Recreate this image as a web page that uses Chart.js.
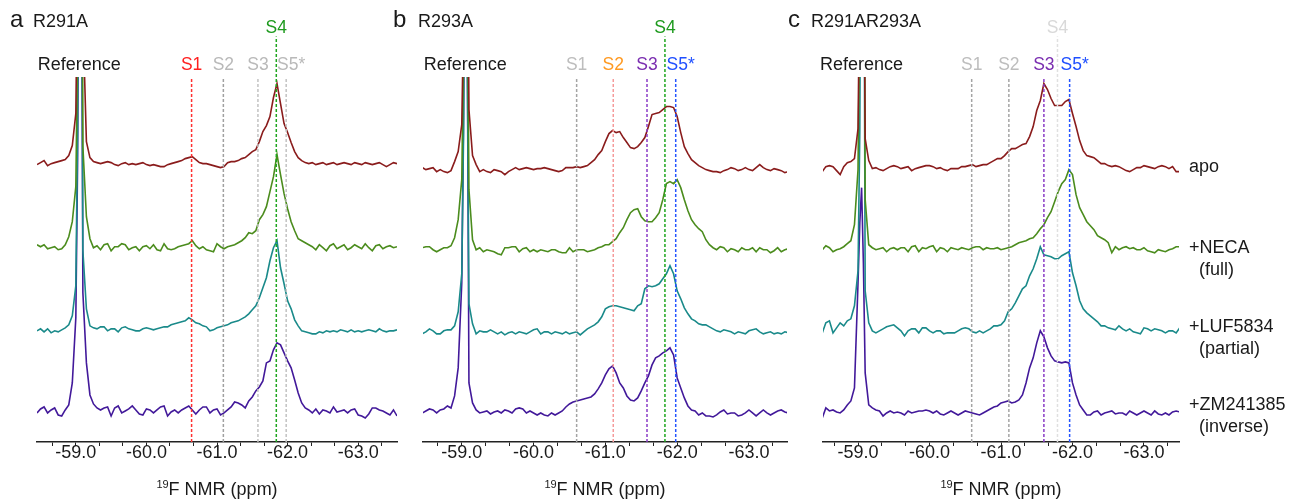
<!DOCTYPE html>
<html>
<head>
<meta charset="utf-8">
<title>19F NMR spectra</title>
<script src="https://cdn.jsdelivr.net/npm/chart.js@4.4.0/dist/chart.umd.min.js"></script>
<style>
  html, body { margin: 0; padding: 0; background: #fff; }
  #wrap { position: relative; width: 1298px; height: 501px; overflow: hidden; }
  #wrap canvas { position: absolute; left: 0; top: 0; }
</style>
</head>
<body>
<div id="wrap">
  <canvas id="panelA" width="1298" height="501"></canvas>
  <canvas id="panelB" width="1298" height="501"></canvas>
  <canvas id="panelC" width="1298" height="501"></canvas>
</div>
<script>
// ========================
// DATA
// ========================
// chemical shift grid (ppm), shared by every spectrum
const ppm = [
  -58.45, -58.50, -58.55, -58.60, -58.65, -58.70, -58.75, -58.80, -58.85, -58.90,
  -58.95, -59.00, -59.025, -59.05, -59.075, -59.10, -59.15, -59.20, -59.25, -59.30,
  -59.35, -59.40, -59.45, -59.50, -59.55, -59.60, -59.65, -59.70, -59.75, -59.80,
  -59.85, -59.90, -59.95, -60.00, -60.05, -60.10, -60.15, -60.20, -60.25, -60.30,
  -60.35, -60.40, -60.45, -60.50, -60.55, -60.60, -60.65, -60.70, -60.75, -60.80,
  -60.85, -60.90, -60.95, -61.00, -61.05, -61.10, -61.15, -61.20, -61.25, -61.30,
  -61.35, -61.40, -61.45, -61.50, -61.55, -61.60, -61.65, -61.70, -61.75, -61.80,
  -61.85, -61.90, -61.95, -62.00, -62.05, -62.10, -62.15, -62.20, -62.25, -62.30,
  -62.35, -62.40, -62.45, -62.50, -62.55, -62.60, -62.65, -62.70, -62.75, -62.80,
  -62.85, -62.90, -62.95, -63.00, -63.05, -63.10, -63.15, -63.20, -63.25, -63.30,
  -63.35, -63.40, -63.45, -63.50, -63.55
];

const traceNames = ['apo', '+NECA', '+LUF5834', '+ZM241385'];
const traceNotes = ['', '(full)', '(partial)', '(inverse)'];
const stackOffsets = [246, 164, 82, 0];   // vertical stacking of the 4 spectra
const siteNames = ['S1', 'S2', 'S3', 'S4', 'S5*'];
const referencePpm = -59.05;
const tickValues = [-58.6667, -59, -59.3333, -59.6667, -60, -60.3333, -60.6667, -61,
  -61.3333, -61.6667, -62, -62.3333, -62.6667, -63, -63.3333];

// ---- panel a : R291A ----
const aApo = [
  2, 4, 6, 1, 3, 4, 5, 6, 7, 11,
  21, 53, 200, 600, 600, 150, 25, 9, 5, 4,
  3, 4, 5, 4, 2, 1, 3, 4, 2, 3,
  2, 3, 4, 2, 1, 2, 1, 0, 0, 2,
  3, 4, 5, 6, 8, 9, 10, 7, 4, 3,
  3, 2, 1, 0, -1, 0, 4, 5, 5, 6,
  8, 9, 12, 15, 17, 25, 35, 41, 50, 69,
  83, 63, 43, 34, 24, 15, 9, 6, 4, 3,
  4, 2, 3, 4, 2, 3, 4, 2, 3, 4,
  3, 2, 4, 3, 2, 4, 3, 2, 3, 4,
  2, 0, 2, 4, 3
];
const aNeca = [
  4, 2, 4, 0, 1, 2, -1, 0, 4, 12,
  27, 62, 200, 600, 600, 102, 32, 10, 1, 3,
  -1, 4, 5, -2, 2, 2, 5, 4, -1, 1,
  2, -2, 2, 3, 0, 4, -1, -2, 5, 0,
  -1, 0, 2, 3, 4, 5, 8, 3, 0, 2,
  -1, -2, -3, 5, 2, 0, 2, 3, 4, 6,
  8, 11, 16, 15, 18, 29, 34, 42, 57, 72,
  94, 74, 55, 40, 27, 18, 10, 8, 6, 4,
  2, -1, 4, 1, -2, 3, 5, 0, 2, 4,
  -1, 1, 4, 2, 0, 5, 1, -2, 3, 4,
  0, 2, 3, 1, 2
];
const aLuf = [
  0, 2, -1, 2, -2, 0, -1, 1, 3, 6,
  15, 45, 200, 600, 600, 80, 22, 5, 3, 2,
  4, 4, 0, 2, 2, -1, 3, 4, 2, 1,
  0, 0, 2, 3, 2, 1, 2, 3, 4, 4,
  6, 7, 8, 9, 10, 13, 11, 8, 7, 5,
  4, 0, 1, 3, 4, 5, 6, 8, 9, 10,
  12, 14, 17, 21, 25, 33, 43, 53, 70, 83,
  90, 63, 47, 30, 22, 11, 5, 0, -1, -2,
  -3, -3, -1, -2, 0, -1, 0, -1, 1, 0,
  -1, 1, -1, 0, -1, 0, 1, 0, -1, 2,
  0, -1, 0, 0, 1
];
const aZm = [
  0, 4, 6, 0, 3, 5, -2, -3, 3, 8,
  30, 95, 250, 600, 600, 120, 50, 18, 9, 5,
  3, 5, 6, -3, 5, 7, 0, 2, 4, 7,
  3, -1, -2, 4, 3, 0, 3, 6, 7, -3,
  1, 3, 0, 3, 5, 7, 3, -1, 3, 6,
  6, 0, 3, 4, -2, 0, 3, 6, 11, 10,
  8, 5, 12, 16, 22, 26, 32, 50, 52, 63,
  70, 68, 60, 52, 45, 33, 20, 10, 5, 3,
  0, 4, -1, 3, 2, 0, 6, 1, 2, 3,
  0, 3, 4, -2, -3, -5, -1, 5, 5, 3,
  2, 0, -2, 3, -3
];
const aSites = [-60.64, -61.09, -61.58, -61.84, -61.98];

// ---- panel b : R293A ----
const bApo = [
  -1, -3, -2, -1, -5, -3, -5, -6, -4, 5,
  15, 42, 147, 600, 300, 57, 11, 2, -5, -3,
  -5, -6, -3, -4, -5, -8, -5, -3, -1, -3,
  -2, -1, -2, -3, -2, -2, -1, -2, -3, -4,
  -5, -4, -1, -1, -1, 0, -1, 0, 1, 4,
  7, 12, 16, 25, 33, 36, 34, 35, 29, 24,
  19, 18, 20, 24, 29, 40, 52, 53, 54, 57,
  60, 60, 59, 50, 34, 20, 13, 7, 4, 1,
  -1, -3, -4, -5, -5, -6, -4, -3, -1, -2,
  -4, -3, -1, -3, -4, -1, 2, -1, -3, -4,
  -2, -3, -4, -6, -5
];
const bNeca = [
  1, 2, 2, -1, -3, -1, 1, 1, 3, 11,
  29, 69, 200, 600, 300, 59, 9, -1, 1, -3,
  -1, -2, -3, -5, -6, 1, 1, 2, 2, -3,
  0, 1, -3, -1, -3, -1, -2, -3, -1, -1,
  -3, -4, -4, 1, -3, -1, -1, -1, -3, -2,
  -1, 1, 2, 4, 4, 7, 10, 16, 21, 29,
  36, 39, 40, 32, 28, 27, 27, 31, 36, 49,
  65, 67, 65, 69, 61, 49, 38, 29, 24, 20,
  17, 9, 4, 1, -1, 2, 1, -3, 0, -1,
  -3, 1, -1, -1, 1, -3, 1, -1, -1, -4,
  -2, 1, -3, -1, 0
];
const bLuf = [
  -3, -1, 2, 0, -3, -3, 0, 1, 1, 5,
  19, 57, 197, 600, 300, 27, 7, -3, 0, -1,
  -1, 1, -1, -3, -1, -4, -2, -1, -3, -1,
  -2, -3, -1, 1, 2, -3, -1, -1, -3, -1,
  -2, -3, -1, -3, -2, -1, -4, -1, 2, 4,
  6, 9, 14, 22, 24, 25, 25, 24, 23, 22,
  21, 20, 25, 27, 42, 45, 44, 45, 47, 52,
  57, 65, 57, 40, 32, 23, 17, 12, 10, 7,
  6, 6, 4, 2, 0, -1, 1, 0, -1, -3,
  -1, -2, -3, 0, 1, 2, -1, -3, -2, -1,
  -3, -2, -3, -1, -2
];
const bZm = [
  0, 2, 4, 3, 0, 3, 4, 7, 5, 17,
  45, 130, 300, 600, 400, 30, 10, 3, 0, 1,
  2, -1, 1, 2, 0, 3, 2, 0, 4, 5,
  4, 0, 2, 0, -2, 0, -2, -3, 0, -2,
  0, 2, 6, 9, 11, 12, 13, 14, 15, 16,
  19, 24, 30, 38, 44, 47, 40, 30, 25, 17,
  13, 12, 15, 22, 30, 37, 48, 55, 57, 60,
  62, 65, 58, 35, 25, 15, 7, 3, 2, -2,
  0, -3, -3, -4, -2, 1, 3, -1, 0, 0,
  -3, -2, 0, 3, 0, -3, 0, 3, 0, -2,
  0, 2, 3, 1, 0
];
const bSites = [-60.60, -61.11, -61.58, -61.83, -61.98];

// ---- panel c : R291AR293A ----
const cApo = [
  -2, -5, 0, 1, 0, -4, -8, 0, 4, 5,
  8, 38, 198, 600, 300, 28, 6, -2, -1, -3,
  -4, -2, 0, 1, 0, -2, -1, 0, -4, -2,
  -1, 0, 1, 1, 0, -2, -1, -3, -4, -2,
  -2, -2, 0, 0, 1, 2, 0, 1, 2, 2,
  4, 6, 8, 8, 11, 15, 18, 18, 20, 22,
  23, 30, 40, 56, 66, 83, 77, 68, 61, 61,
  61, 65, 67, 53, 40, 26, 16, 11, 10, 9,
  6, 3, 3, 1, 0, 1, 0, -2, -4, -5,
  -3, -1, -1, 1, 0, -1, -2, 0, 1, 0,
  -2, 0, -5, -5, -5
];
const cNeca = [
  -1, -1, 3, 1, -3, -1, 0, 2, 5, 8,
  24, 79, 249, 600, 600, 49, 4, 1, -1, 0,
  1, -3, 0, 1, -1, 1, 1, -3, 2, 3,
  -3, 1, 0, 2, 3, -3, 1, 0, -3, 1,
  0, -1, 1, 0, -1, 1, 2, 2, -1, 1,
  0, 0, 1, -1, 0, 1, 2, 4, 6, 7,
  8, 10, 11, 15, 20, 24, 31, 37, 47, 57,
  65, 69, 79, 74, 54, 41, 34, 27, 23, 19,
  13, 11, 9, 6, -4, 2, -1, 1, 2, 0,
  1, -1, -1, 1, -2, -3, -4, -1, -2, -3,
  -1, 0, 2, 2, 1
];
const cLuf = [
  0, -2, 8, 10, -2, 3, 8, 5, 10, 12,
  25, 60, 200, 600, 600, 40, 8, 0, -2, 0,
  2, 4, 5, 6, 3, 0, -5, 0, 2, 2,
  -2, 3, 3, 0, -2, 0, 0, -3, -2, -2,
  -2, 0, 2, 3, 2, -1, -2, 0, -2, 0,
  2, 5, 5, 6, 10, 19, 22, 28, 35, 42,
  45, 55, 62, 72, 84, 76, 75, 74, 72, 72,
  75, 77, 79, 58, 45, 30, 22, 18, 15, 12,
  9, 5, 5, 3, 2, 1, 5, 2, 0, 2,
  -1, -2, -3, 3, 2, 0, 2, 1, 0, -2,
  0, 0, -2, 3, 3
];
const cZm = [
  0, -5, 5, 2, 3, 1, 0, 3, 8, 12,
  25, 130, 190, 225, 150, 40, 8, 5, 3, 2,
  -3, 0, 2, 0, 1, 0, -2, 2, 0, 1,
  2, 2, 3, 2, 0, 2, -1, -2, 0, 2,
  0, -2, 0, 2, 1, 0, -1, -2, 0, 2,
  4, 6, 7, 10, 11, 12, 10, 11, 13, 18,
  30, 45, 55, 70, 82, 76, 65, 57, 52, 51,
  50, 51, 50, 30, 18, 8, 3, -2, -2, 1,
  2, -2, 0, 1, 2, -1, 0, 0, -2, 2,
  0, -2, 0, 2, 0, -2, 2, -1, -2, 0,
  -2, 1, 2, 1, 0
];
const cSites = [-60.59, -61.11, -61.60, -61.79, -61.96];

// ========================
// STYLE
// ========================
const FONT = '"Liberation Sans", Arial, Helvetica, sans-serif';
const TEXT = '#1a1a1a';
const TRACE_COLORS = ['#8a1c1c', '#4b8c1d', '#1a8a8a', '#42199a'];
const Y_MIN = -29, Y_MAX = 335.5, S4_TOP = 376;

const panels = [
  {
    id: 'panelA', letter: 'a', name: 'R291A', letterX: 10, nameX: 33,
    area: [37, 397], range: [-63.55, -58.45],
    traces: [aApo, aNeca, aLuf, aZm], sites: aSites,
    lineColors: ['#ff3030', '#a0a0a0', '#c2c2c2', '#1ea51e', '#c2c2c2'],
    labelColors: ['#ff1f1f', '#b9b9b9', '#b9b9b9', '#1e9a1e', '#b9b9b9'],
    side: false
  },
  {
    id: 'panelB', letter: 'b', name: 'R293A', letterX: 393, nameX: 418,
    area: [423, 787], range: [-63.53, -58.46],
    traces: [bApo, bNeca, bLuf, bZm], sites: bSites,
    lineColors: ['#a4a4a4', '#f59a9a', '#8a3cc6', '#1ea51e', '#2454ff'],
    labelColors: ['#bdbdbd', '#ff9a22', '#7a2db0', '#1e9a1e', '#1f4fff'],
    side: false
  },
  {
    id: 'panelC', letter: 'c', name: 'R291AR293A', letterX: 788, nameX: 811,
    area: [823, 1179], range: [-63.49, -58.51],
    traces: [cApo, cNeca, cLuf, cZm], sites: cSites,
    lineColors: ['#a4a4a4', '#a4a4a4', '#8a3cc6', '#e0e0e0', '#2454ff'],
    labelColors: ['#bdbdbd', '#bdbdbd', '#7a2db0', '#d9d9d9', '#1f4fff'],
    side: true, sideX: 1189, sideY: [172, 253, 332, 410]
  }
];

// ========================
// DRAWING
// ========================
function drawTexts(chart, p) {
  const ctx = chart.ctx;
  const xs = chart.scales.x;
  const area = chart.chartArea;
  ctx.save();
  ctx.textBaseline = 'alphabetic';
  ctx.fillStyle = TEXT;

  // panel heading
  ctx.textAlign = 'left';
  ctx.font = '24px ' + FONT;
  ctx.fillText(p.letter, p.letterX, 27);
  ctx.font = '18px ' + FONT;
  ctx.fillText(p.name, p.nameX, 27);

  // reference label
  ctx.textAlign = 'center';
  ctx.fillText('Reference', xs.getPixelForValue(referencePpm), 70);

  // state labels
  ctx.font = '17.5px ' + FONT;
  siteNames.forEach((n, k) => {
    ctx.fillStyle = p.labelColors[k];
    const dx = k === 4 ? 5 : 0;
    ctx.fillText(n, xs.getPixelForValue(p.sites[k]) + dx, k === 3 ? 33 : 70);
  });

  // axis title with superscript
  ctx.fillStyle = TEXT;
  ctx.textAlign = 'left';
  ctx.font = '11px ' + FONT;
  const w19 = ctx.measureText('19').width;
  ctx.font = '18px ' + FONT;
  const wRest = ctx.measureText('F NMR (ppm)').width;
  const x0 = (area.left + area.right) / 2 - (w19 + wRest) / 2;
  ctx.font = '11px ' + FONT;
  ctx.fillText('19', x0, 488);
  ctx.font = '18px ' + FONT;
  ctx.fillText('F NMR (ppm)', x0 + w19, 495);

  // sample labels on the right
  if (p.side) {
    ctx.font = '18px ' + FONT;
    traceNames.forEach((n, t) => {
      ctx.fillText(n, p.sideX, p.sideY[t]);
      if (traceNotes[t]) ctx.fillText(traceNotes[t], p.sideX + 10, p.sideY[t] + 22);
    });
  }
  ctx.restore();
}

function buildPanel(p) {
  const datasets = [];

  // dashed state markers
  p.sites.forEach((s, k) => {
    datasets.push({
      data: [{ x: s, y: Y_MIN }, { x: s, y: k === 3 ? S4_TOP : Y_MAX }],
      borderColor: p.lineColors[k],
      borderWidth: 1.5,
      borderDash: [3, 2],
      pointRadius: 0,
      clip: false,
      order: 0
    });
  });

  // stacked spectra
  p.traces.forEach((vals, t) => {
    datasets.push({
      label: traceNames[t],
      data: ppm.map((x, i) => ({ x: x, y: stackOffsets[t] + vals[i] })),
      borderColor: TRACE_COLORS[t],
      borderWidth: 1.6,
      pointRadius: 0,
      tension: 0,
      order: 1
    });
  });

  return new Chart(document.getElementById(p.id), {
    type: 'line',
    data: { datasets: datasets },
    options: {
      responsive: false,
      animation: false,
      devicePixelRatio: 1,
      events: [],
      layout: { padding: { left: p.area[0], right: 1298 - p.area[1], top: 77, bottom: 0 } },
      plugins: { legend: { display: false }, tooltip: { enabled: false } },
      scales: {
        x: {
          type: 'linear',
          reverse: true,
          min: p.range[0],
          max: p.range[1],
          afterBuildTicks: (scale) => { scale.ticks = tickValues.map(v => ({ value: v })); },
          afterFit: (scale) => { scale.height = 59; },
          ticks: {
            autoSkip: false,
            maxRotation: 0,
            padding: 0,
            color: TEXT,
            font: { family: FONT, size: 18, lineHeight: 0.8 },
            callback: (v) => Math.abs(v - Math.round(v)) < 1e-6 ? Number(v).toFixed(1) : ''
          },
          grid: { display: true, drawOnChartArea: false, drawTicks: true, tickLength: 4, color: '#222', lineWidth: 1 },
          border: { display: true, color: '#222', width: 1.5 }
        },
        y: { display: false, min: Y_MIN, max: Y_MAX }
      }
    },
    plugins: [{ id: 'panelText', afterDraw: (chart) => drawTexts(chart, p) }]
  });
}

panels.forEach(buildPanel);
</script>
</body>
</html>
